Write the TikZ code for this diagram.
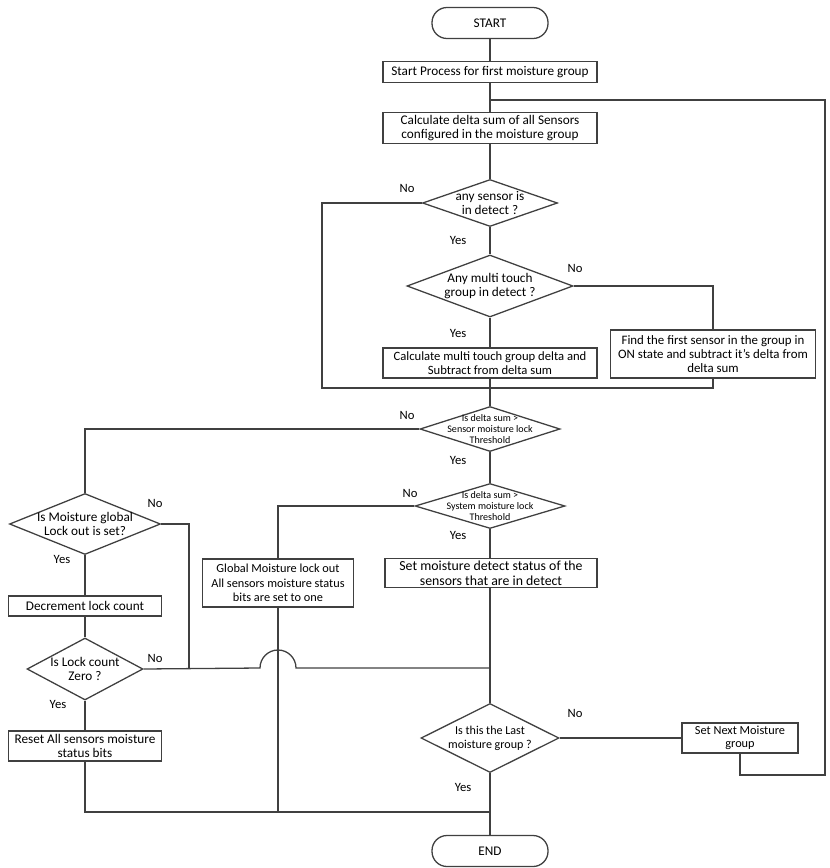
\documentclass[tikz,border=0pt]{standalone}
\usepackage{fontspec}
\setmainfont{Carlito}
\usetikzlibrary{positioning,shapes.geometric,calc}
\def\px{0.03cm}

\begin{document}
\begin{tikzpicture}[
  x=0.03cm, y=-0.03cm,
  font=\fontsize{11.3}{12.5}\selectfont,
  line width=1.1pt,
  conn/.style={draw=black!75},
  term/.style={draw=black!75, rounded corners=4.5mm, minimum width=116*\px,
               minimum height=31*\px, inner sep=1pt},
  proc/.style={draw=black!75, align=center, inner sep=1pt},
  dec/.style={draw=black!75, diamond, inner sep=0pt, aspect=1},
  dtxt/.style={align=center, inner sep=0pt},
  yn/.style={font=\fontsize{10.8}{12}\selectfont, inner sep=0pt},
]
\useasboundingbox (0,0) rectangle (829,868);

% ---- main column ----
\node[term] (start) at (490,23) {START};
\node[proc, minimum width=214*\px, minimum height=21*\px] (b1) at (490,72)
      {Start Process for first moisture group};
\node[proc, minimum width=214*\px, minimum height=31*\px] (b2) at (490,128)
      {Calculate delta sum of all Sensors\\configured in the moisture group};
\node[dec, minimum width=135*\px, minimum height=47*\px,
      label={[dtxt]center:any sensor is\\in detect ?}] (d1) at (490,203) {};
\node[dec, minimum width=166*\px, minimum height=62*\px,
      label={[dtxt]center:Any multi touch\\group in detect ?}] (d2) at (490,286) {};
\node[proc, minimum width=214*\px, minimum height=30*\px, font=\fontsize{10.8}{12}\selectfont] (b3) at (490,363)
      {Calculate multi touch group delta and\\Subtract from delta sum};
\node[proc, minimum width=205*\px, minimum height=48*\px, font=\fontsize{11}{12}\selectfont] (b4) at (713,354)
      {Find the first sensor in the group in\\ON state and subtract it's delta from\\delta sum};
\node[dec, minimum width=140*\px, minimum height=45*\px,
      label={[dtxt, font=\fontsize{8.6}{9.6}\selectfont]center:Is delta sum >\\Sensor moisture lock\\Threshold}] (d3) at (490,429) {};
\node[dec, minimum width=150*\px, minimum height=45*\px,
      label={[dtxt, font=\fontsize{8.6}{9.6}\selectfont]center:Is delta sum >\\System moisture lock\\Threshold}] (d4) at (490,506) {};
\node[proc, minimum width=212*\px, minimum height=29*\px, font=\fontsize{11.8}{12.5}\selectfont] (b6) at (491,573)
      {Set moisture detect status of the\\sensors that are in detect};
\node[dec, minimum width=138*\px, minimum height=69*\px,
      label={[dtxt, font=\fontsize{10.3}{12}\selectfont]center:Is this the Last\\moisture group ?}] (d5) at (490,738) {};
\node[proc, minimum width=116*\px, minimum height=30*\px, font=\fontsize{10.5}{11.5}\selectfont] (b9) at (740,738)
      {Set Next Moisture\\group};
\node[term] (end) at (490,851) {END};

% ---- global lock out ----
\node[proc, minimum width=151*\px, minimum height=48*\px, font=\fontsize{10.5}{12.5}\selectfont] (b5) at (278,583)
      {Global Moisture lock out\\All sensors moisture status\\bits are set to one};

% ---- left column ----
\node[dec, minimum width=151*\px, minimum height=61*\px,
      label={[dtxt]center:Is Moisture global\\Lock out is set?}] (d6) at (85,524) {};
\node[proc, minimum width=153*\px, minimum height=20*\px] (b7) at (85,606) {Decrement lock count};
\node[dec, minimum width=116*\px, minimum height=62*\px,
      label={[dtxt]center:Is Lock count\\Zero ?}] (d7) at (85,669) {};
\node[proc, minimum width=153*\px, minimum height=30*\px] (b8) at (85,746)
      {Reset All sensors moisture\\status bits};

% ---- junction points ----
\coordinate (m0) at (490,100);
\coordinate (m1) at (490,388);
\coordinate (l1) at (322,388);
\coordinate (m2) at (490,668);
\coordinate (m3) at (490,812);
\coordinate (n1) at (189,668);
\coordinate (rb) at (825,775);

% ---- connectors ----
\draw[conn] (start) -- (b1);
\draw[conn] (b1) -- (b2);
\draw[conn] (b2) -- (d1);
\draw[conn] (d1) -- (d2);
\draw[conn] (d2) -- (b3);
\draw[conn] (b3) -- (d3);
\draw[conn] (d3) -- (d4);
\draw[conn] (d4) -- (b6.north -| d4.south);
\draw[conn] (b6.south -| d5.north) -- (d5.north);
\draw[conn] (d5) -- (end);
\draw[conn] (d1.west) -| (l1) -- (m1);
\draw[conn] (d2.east) -| (b4.north);
\draw[conn] (b4.south) |- (m1);
\draw[conn] (d3.west) -| (d6.north);
\draw[conn] (d4.west) -| (b5.north);
\draw[conn] (b5.south) -- (b5.south |- m3);
\draw[conn] (d6.east) -| (n1);
\draw[conn] (d6) -- (b7);
\draw[conn] (b7) -- (d7);
\draw[conn] (d7) -- (b8);
\draw[conn] (b8.south) |- (m3);
\draw[conn] (d7.east) -- (260,668) arc[start angle=180, end angle=0, radius=18*\px] -- (m2);
\draw[conn] (d5.east) -- (b9.west);
\draw[conn] (b9.south) |- (rb) |- (m0);

% ---- yes / no labels ----
\node[yn] (n1no)  at (407,188) {No};
\node[yn] (n1yes) at (458,240) {Yes};
\node[yn] (n2no)  at (575,268) {No};
\node[yn] (n2yes) at (458,333) {Yes};
\node[yn] (n3no)  at (407,415) {No};
\node[yn] (n3yes) at (458,460) {Yes};
\node[yn] (n4no)  at (410,493) {No};
\node[yn] (n4yes) at (458,535) {Yes};
\node[yn] (n6no)  at (155,503) {No};
\node[yn] (n6yes) at (62,559) {Yes};
\node[yn] (n7no)  at (155,658) {No};
\node[yn] (n7yes) at (58,704) {Yes};
\node[yn] (n5no)  at (575,713) {No};
\node[yn] (n5yes) at (463,787) {Yes};
\end{tikzpicture}
\end{document}
